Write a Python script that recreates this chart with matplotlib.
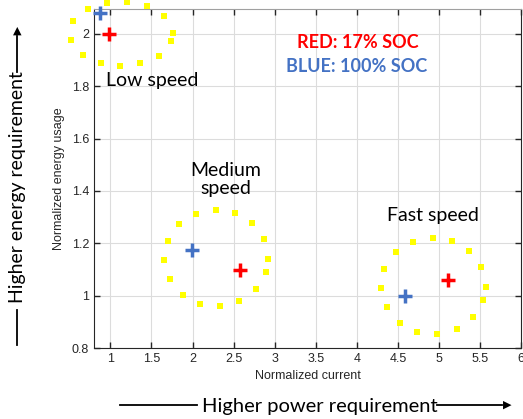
import matplotlib.pyplot as plt
from matplotlib.lines import Line2D

# yellow ring points
lowX = [0.733, 0.964, 1.207, 1.45, 1.657, 1.766, 1.742, 1.596, 1.365, 1.122, 0.891, 0.660, 0.514, 0.550]
lowY = [2.095, 2.118, 2.122, 2.107, 2.069, 2.004, 1.973, 1.916, 1.889, 1.878, 1.889, 1.920, 1.977, 2.050]
medX = [2.037, 2.280, 2.520, 2.726, 2.872, 2.917, 2.893, 2.767, 2.568, 2.337, 2.094, 1.879, 1.721, 1.653, 1.697, 1.835]
medY = [1.313, 1.328, 1.317, 1.277, 1.216, 1.141, 1.089, 1.024, 0.981, 0.962, 0.969, 1.004, 1.064, 1.135, 1.210, 1.272]
fastX = [4.68, 4.923, 5.162, 5.369, 5.515, 5.568, 5.535, 5.41, 5.215, 4.979, 4.736, 4.522, 4.364, 4.299, 4.335, 4.477]
fastY = [1.205, 1.221, 1.209, 1.171, 1.11, 1.034, 0.982, 0.917, 0.873, 0.855, 0.863, 0.897, 0.955, 1.028, 1.102, 1.165]

# cross markers: low, medium, fast
redX = [0.984, 2.572, 5.113]
redY = [1.999, 1.099, 1.061]
blueX = [0.878, 1.993, 4.59]
blueY = [2.079, 1.173, 1.0]

xTicks = [1, 1.5, 2, 2.5, 3, 3.5, 4, 4.5, 5, 5.5, 6]
yTicks = [0.8, 1, 1.2, 1.4, 1.6, 1.8, 2]

axCol = '#262626'
blue = '#4472C4'

fig = plt.figure(figsize=(5.23, 4.19), dpi=100)
ax = fig.add_axes([94 / 523, 1 - 348 / 419, 427 / 523, 339 / 419])

for xs, ys in ((lowX, lowY), (medX, medY), (fastX, fastY)):
	ax.plot(xs, ys, 's', color='#FFFF00', ms=3.8, mew=0, clip_on=False, zorder=3)

ax.plot(redX, redY, '+', color='#FF0000', ms=10, mew=2.5, clip_on=False, zorder=4)
ax.plot(blueX, blueY, '+', color=blue, ms=10, mew=2.5, clip_on=False, zorder=4)

ax.set_xlim(0.8, 6)
ax.set_ylim(0.8, 2.095)
ax.set_xticks(xTicks)
ax.set_xticklabels([('%g' % t) for t in xTicks])
ax.set_yticks(yTicks)
ax.set_yticklabels([('%g' % t) for t in yTicks])
ax.grid(True, color='#dcdcdc', lw=0.8)
ax.set_axisbelow(True)
ax.tick_params(direction='in', top=True, right=True, length=4, width=1,
	colors=axCol, labelsize=9, labelcolor=axCol)
for s in ax.spines.values():
	s.set_color(axCol)
ax.spines['top'].set_color('#a0a0a0')

tickFont = 'Liberation Sans'
for lab in ax.get_xticklabels() + ax.get_yticklabels():
	lab.set_family(tickFont)
ax.set_xlabel('Normalized current', family=tickFont, fontsize=9, color=axCol, labelpad=4)
ax.set_ylabel('Normalized energy usage', family=tickFont, fontsize=9, color=axCol, labelpad=5)

noteFont = 'Lato'
ax.text(1.51, 1.82, 'Low speed', family=noteFont, fontsize=14, ha='center', va='center')
ax.text(2.4, 1.443, 'Medium\nspeed', family=noteFont, fontsize=14, ha='center', va='center', linespacing=1.1)
ax.text(4.93, 1.305, 'Fast speed', family=noteFont, fontsize=14, ha='center', va='center')
ax.text(4.01, 1.966, 'RED: 17% SOC', family=noteFont, fontsize=13, fontweight='bold',
	color='#FF0000', ha='center', va='center')
ax.text(4.0, 1.874, 'BLUE: 100% SOC', family=noteFont, fontsize=13, fontweight='bold',
	color=blue, ha='center', va='center')

# outside arrows
fig.text(320 / 523, 1 - 406 / 419, 'Higher power requirement', family=noteFont, fontsize=14.5,
	ha='center', va='center')
fig.add_artist(Line2D([120 / 523, 197 / 523], [1 - 405 / 419] * 2, color='k', lw=1.3))
fig.add_artist(Line2D([437 / 523, 502 / 523], [1 - 405 / 419] * 2, color='k', lw=1.3))
fig.text(511 / 523, 1 - 405 / 419, '\u25B6', fontsize=8, ha='right', va='center',
	family='DejaVu Sans')

fig.text(18 / 523, 1 - 187 / 419, 'Higher energy requirement', family=noteFont, fontsize=14,
	ha='center', va='center', rotation=90)
fig.add_artist(Line2D([17 / 523] * 2, [1 - 310 / 419, 1 - 345 / 419], color='k', lw=1.3))
fig.add_artist(Line2D([17 / 523] * 2, [1 - 72 / 419, 1 - 36 / 419], color='k', lw=1.3))
fig.text(17 / 523, 1 - 26 / 419, '\u25B2', fontsize=8, ha='center', va='top',
	family='DejaVu Sans')

fig.savefig('out.png', dpi=100)
